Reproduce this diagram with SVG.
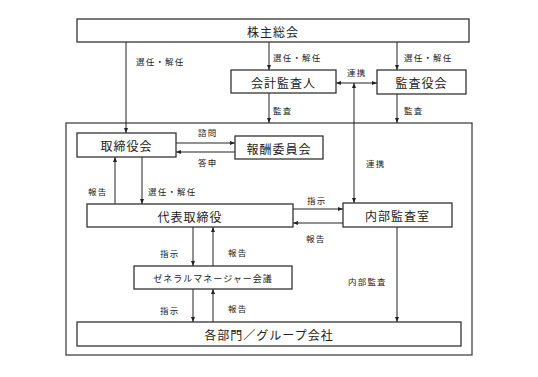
<svg xmlns="http://www.w3.org/2000/svg" width="538" height="377" viewBox="0 0 538 377">
<defs>
<marker id="ah" viewBox="0 0 10 10" refX="10" refY="5" markerWidth="5" markerHeight="5" orient="auto-start-reverse" markerUnits="userSpaceOnUse"><path d="M0,1 L10,5 L0,9 z" fill="#222"/></marker>
</defs>
<style>
.box{fill:#fff;stroke:#333;stroke-width:1.3}
.frame{fill:none;stroke:#444;stroke-width:1.3}
.ln{stroke:#222;stroke-width:1;fill:none}
.t{font-family:"Noto Sans CJK JP","Noto Sans CJK SC",sans-serif;font-size:12px;fill:#222;text-anchor:middle;dominant-baseline:central;letter-spacing:1px}
.s{font-family:"Noto Sans CJK JP","Noto Sans CJK SC",sans-serif;font-size:8.5px;fill:#222;dominant-baseline:central;letter-spacing:1.2px}
</style>
<rect width="538" height="377" fill="#fff"/>
<rect class="frame" x="66" y="123" width="406" height="232"/>
<g id="connectors">
<line class="ln" x1="126" y1="42" x2="126" y2="133" marker-end="url(#ah)"/>
<line class="ln" x1="269" y1="42" x2="269" y2="70" marker-end="url(#ah)"/>
<line class="ln" x1="397" y1="42" x2="397" y2="70" marker-end="url(#ah)"/>
<line class="ln" x1="336" y1="83" x2="377" y2="83" marker-start="url(#ah)" marker-end="url(#ah)"/>
<line class="ln" x1="354" y1="83" x2="354" y2="203" marker-start="url(#ah)" marker-end="url(#ah)"/>
<line class="ln" x1="269" y1="93" x2="269" y2="123" marker-end="url(#ah)"/>
<line class="ln" x1="397" y1="94" x2="397" y2="123" marker-end="url(#ah)"/>
<line class="ln" x1="176" y1="143" x2="235" y2="143" marker-end="url(#ah)"/>
<line class="ln" x1="235" y1="152" x2="176" y2="152" marker-end="url(#ah)"/>
<line class="ln" x1="115" y1="204" x2="115" y2="157" marker-end="url(#ah)"/>
<line class="ln" x1="142" y1="157" x2="142" y2="204" marker-end="url(#ah)"/>
<line class="ln" x1="293" y1="209" x2="343" y2="209" marker-end="url(#ah)"/>
<line class="ln" x1="343" y1="223" x2="293" y2="223" marker-end="url(#ah)"/>
<line class="ln" x1="193" y1="227" x2="193" y2="266" marker-end="url(#ah)"/>
<line class="ln" x1="213" y1="266" x2="213" y2="227" marker-end="url(#ah)"/>
<line class="ln" x1="193" y1="289" x2="193" y2="322" marker-end="url(#ah)"/>
<line class="ln" x1="213" y1="322" x2="213" y2="289" marker-end="url(#ah)"/>
<line class="ln" x1="397" y1="227" x2="397" y2="322" marker-end="url(#ah)"/>
<text class="s" x="136" y="61">選任・解任</text>
<text class="s" x="273" y="57">選任・解任</text>
<text class="s" x="404" y="57">選任・解任</text>
<text class="s" x="347" y="72">連携</text>
<text class="s" x="273" y="110">監査</text>
<text class="s" x="404" y="110">監査</text>
<text class="s" x="198" y="132">諮問</text>
<text class="s" x="198" y="162">答申</text>
<text class="s" x="366" y="163">連携</text>
<text class="s" x="88" y="191">報告</text>
<text class="s" x="148" y="191">選任・解任</text>
<text class="s" x="307" y="200">指示</text>
<text class="s" x="306" y="238">報告</text>
<text class="s" x="160" y="253">指示</text>
<text class="s" x="228" y="252">報告</text>
<text class="s" x="348" y="281">内部監査</text>
<text class="s" x="160" y="310">指示</text>
<text class="s" x="228" y="308">報告</text>
</g>
<g id="shareholders"><rect class="box" x="77" y="19" width="392" height="23"/><text class="t" x="273" y="31">株主総会</text></g>
<g id="accounting-auditor"><rect class="box" x="231" y="70" width="105" height="23"/><text class="t" x="283.5" y="82">会計監査人</text></g>
<g id="audit-board"><rect class="box" x="377" y="70" width="89" height="24"/><text class="t" x="421.5" y="82">監査役会</text></g>
<g id="board"><rect class="box" x="77" y="133" width="99" height="24"/><text class="t" x="126.5" y="145">取締役会</text></g>
<g id="compensation"><rect class="box" x="235" y="136" width="88" height="23"/><text class="t" x="279" y="148">報酬委員会</text></g>
<g id="ceo"><rect class="box" x="87" y="204" width="206" height="23"/><text class="t" x="190" y="216">代表取締役</text></g>
<g id="internal-audit"><rect class="box" x="343" y="203" width="109" height="24"/><text class="t" x="397.5" y="215">内部監査室</text></g>
<g id="gm-meeting"><rect class="box" x="134" y="266" width="158" height="23"/><text class="t" x="213" y="278" style="font-size:9px">ゼネラルマネージャー会議</text></g>
<g id="departments"><rect class="box" x="77" y="322" width="384" height="24"/><text class="t" x="269" y="334">各部門／グループ会社</text></g>
</svg>
